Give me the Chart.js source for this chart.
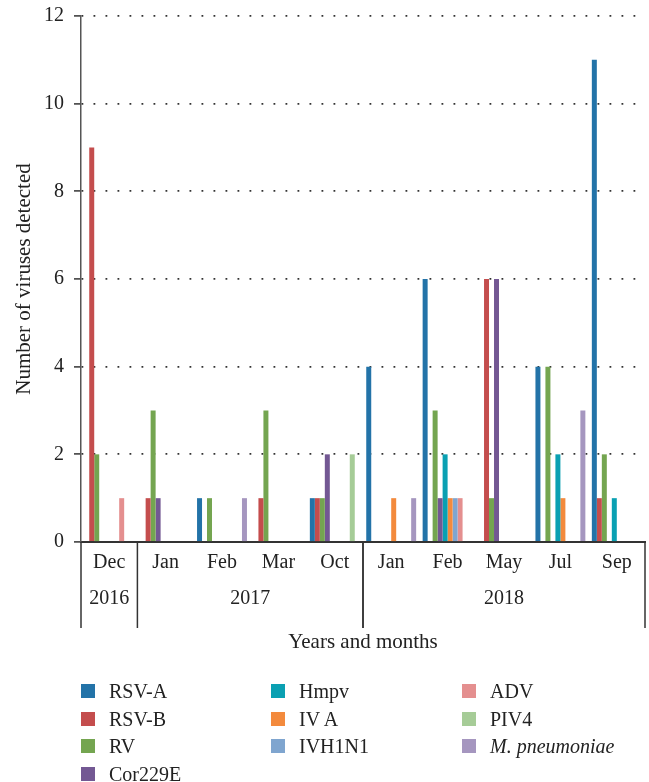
<!DOCTYPE html>
<html>
<head>
<meta charset="utf-8">
<script src="https://cdn.jsdelivr.net/npm/chart.js@4.4.0/dist/chart.umd.min.js"></script>
<style>
  html, body { margin: 0; padding: 0; background: #fff; }
  #wrap { position: relative; width: 649px; height: 782px; }
  #c { position: absolute; left: 0; top: 0; }
  .lg { position: absolute; font-family: "Liberation Serif", serif; font-size: 20px; color: #222; white-space: nowrap; line-height: 20px; }
  .lg span.box { position: absolute; width: 14px; height: 14px; left: 0; top: 3px; }
  .lg span.txt { position: absolute; left: 28px; top: 0; }
</style>
</head>
<body>
<div id="wrap">
  <canvas id="c" width="649" height="782"></canvas>
</div>
<script>
// ---- data ----
const months = ['Dec', 'Jan', 'Feb', 'Mar', 'Oct', 'Jan', 'Feb', 'May', 'Jul', 'Sep'];
const yearLabels = ['2016', '2017', '2018'];
const yearStart = [0, 1, 5];
const yearEnd = [0, 4, 9];
const seriesNames = ['RSV-A', 'RSV-B', 'RV', 'Cor229E', 'Hmpv', 'IV A', 'IVH1N1', 'ADV', 'PIV4', 'M. pneumoniae'];
const rsvA    = [0, 0, 1, 0, 1, 4, 6, 0, 4, 11];
const rsvB    = [9, 1, 0, 1, 1, 0, 0, 6, 0, 1];
const rv      = [2, 3, 1, 3, 1, 0, 3, 1, 4, 2];
const cor229E = [0, 1, 0, 0, 2, 0, 1, 6, 0, 0];
const hmpv    = [0, 0, 0, 0, 0, 0, 2, 0, 2, 1];
const ivA     = [0, 0, 0, 0, 0, 1, 1, 0, 1, 0];
const ivh1n1  = [0, 0, 0, 0, 0, 0, 1, 0, 0, 0];
const adv     = [1, 0, 0, 0, 0, 0, 1, 0, 0, 0];
const piv4    = [0, 0, 0, 0, 2, 0, 0, 0, 0, 0];
const mpn     = [0, 0, 1, 0, 0, 1, 0, 0, 3, 0];
const yTicks = [0, 2, 4, 6, 8, 10, 12];

const seriesValues = [rsvA, rsvB, rv, cor229E, hmpv, ivA, ivh1n1, adv, piv4, mpn];
const colors = ['#2373a8', '#c44d4d', '#74a550', '#735893', '#0aa0b2', '#f38a3d', '#7fa5cf', '#e48f8f', '#a6cc97', '#a596bf'];

const FONT = '"Liberation Serif", serif';
const ink = '#222';

const extras = {
  id: 'extras',
  afterDraw(chart) {
    const ctx = chart.ctx;
    const x = chart.scales.x;
    const area = chart.chartArea;
    const half = (x.getPixelForValue(1) - x.getPixelForValue(0)) / 2;
    const y0 = area.bottom;
    const yEnd = 628;
    ctx.save();
    ctx.strokeStyle = '#333';
    ctx.lineWidth = 1.5;
    const bounds = new Set();
    yearStart.forEach((s, i) => {
      bounds.add(x.getPixelForValue(s) - half);
      bounds.add(x.getPixelForValue(yearEnd[i]) + half);
    });
    bounds.forEach(bx => {
      ctx.beginPath();
      ctx.moveTo(bx, y0);
      ctx.lineTo(bx, yEnd);
      ctx.stroke();
    });
    ctx.fillStyle = ink;
    ctx.font = '20px ' + FONT;
    ctx.textAlign = 'center';
    ctx.textBaseline = 'middle';
    yearLabels.forEach((lab, i) => {
      const cx = (x.getPixelForValue(yearStart[i]) + x.getPixelForValue(yearEnd[i])) / 2;
      ctx.fillText(lab, cx, 599);
    });
    ctx.font = '21px ' + FONT;
    ctx.fillText('Years and months', (x.left + x.right) / 2, 642);
    ctx.restore();
  }
};

new Chart(document.getElementById('c'), {
  type: 'bar',
  data: {
    labels: months,
    datasets: seriesNames.map((n, i) => ({
      label: n,
      data: seriesValues[i],
      backgroundColor: colors[i],
      borderWidth: 0,
      categoryPercentage: 0.885,
      barPercentage: 1.0
    }))
  },
  options: {
    responsive: false,
    animation: false,
    devicePixelRatio: 1,
    layout: { padding: { left: 0, right: 4, top: 16, bottom: 140 } },
    plugins: { legend: { display: false }, tooltip: { enabled: false } },
    scales: {
      x: {
        grid: { display: true, drawOnChartArea: false, drawTicks: false },
        border: { display: true, color: '#333', width: 2 },
        ticks: { color: ink, font: { family: FONT, size: 20 }, padding: 9, maxRotation: 0, autoSkip: false },
        afterFit(s) { s.height = 100; s.paddingLeft = 0; s.paddingRight = 0; }
      },
      y: {
        min: 0,
        max: 12,
        afterBuildTicks(s) { s.ticks = yTicks.map(v => ({ value: v })); },
        grid: {
          color: '#333',
          lineWidth: 1.8,
          drawTicks: true,
          tickLength: 7,
          tickColor: '#333',
          tickWidth: 1.5,
          tickBorderDash: []
        },
        border: { display: true, color: '#555', width: 1.5, dash: [1.8, 10.2] },
        ticks: { color: ink, font: { family: FONT, size: 20 }, padding: 10 },
        title: {
          display: true,
          text: 'Number of viruses detected',
          color: ink,
          font: { family: FONT, size: 21 },
          padding: { top: 12, bottom: 0 }
        },
        afterFit(s) { s.width = 81; s.paddingTop = 0; s.paddingBottom = 0; }
      }
    }
  },
  plugins: [extras]
});

// ---- legend (column-major, 4 / 3 / 3) ----
const colStarts = [0, 4, 7];
const colX = [81, 271, 462];
const rowY = [684, 711.5, 739, 766.5];
const wrap = document.getElementById('wrap');
seriesNames.forEach((n, i) => {
  let col = 0;
  for (let c = 0; c < colStarts.length; c++) if (i >= colStarts[c]) col = c;
  const row = i - colStarts[col];
  const d = document.createElement('div');
  d.className = 'lg';
  d.style.left = colX[col] + 'px';
  d.style.top = (rowY[row] - 3) + 'px';
  const b = document.createElement('span');
  b.className = 'box';
  b.style.background = colors[i];
  const t = document.createElement('span');
  t.className = 'txt';
  if (n === 'M. pneumoniae') t.style.fontStyle = 'italic';
  t.textContent = n;
  d.appendChild(b);
  d.appendChild(t);
  wrap.appendChild(d);
});
</script>
</body>
</html>
